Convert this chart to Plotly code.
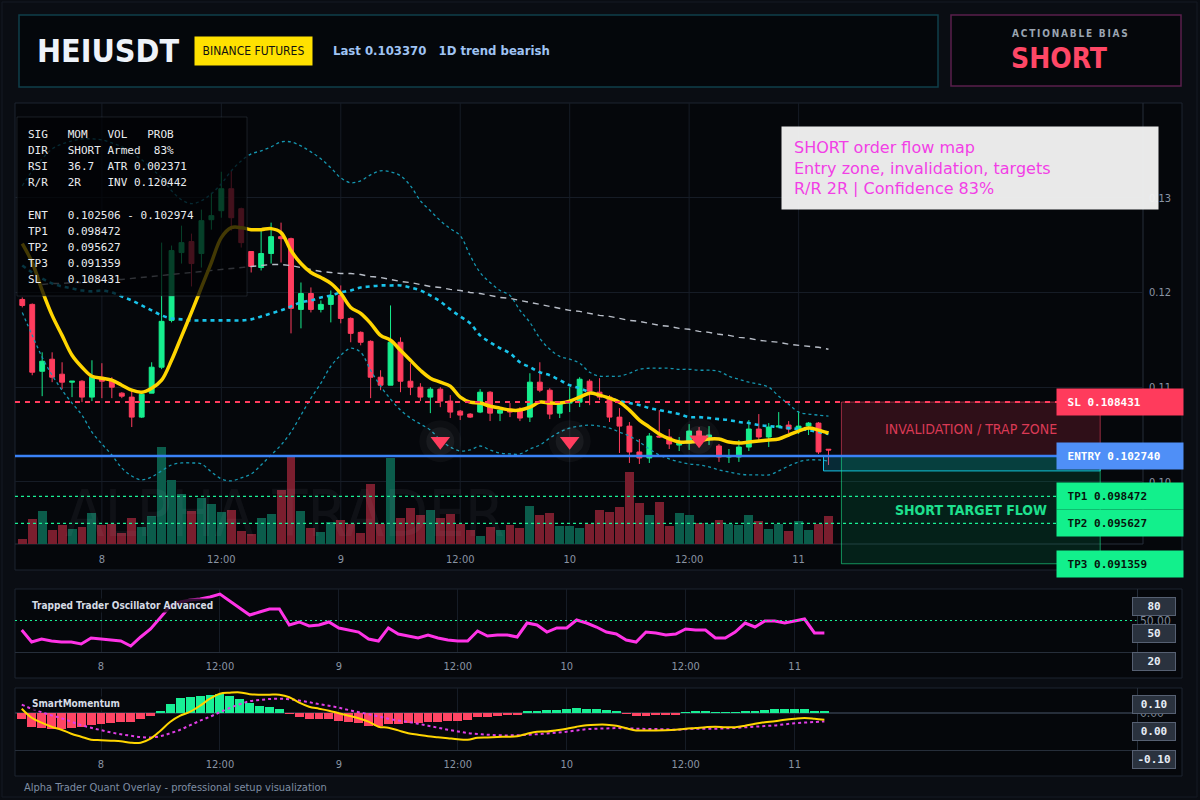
import plotly.graph_objects as go

W, H = 1200, 800

# hourly bars, index 0 = 7th 16:00
opens = [0.11926, 0.11874, 0.11168, 0.11295, 0.11137, 0.11053, 0.11063, 0.10895, 0.11105, 0.11063,
         0.10937, 0.10895, 0.10684, 0.10937, 0.11211, 0.11705, 0.12421, 0.12537, 0.12411, 0.12768,
         0.12863, 0.13095, 0.12884, 0.12432, 0.12263, 0.12411, 0.12589, 0.12568, 0.11821, 0.11989,
         0.11821, 0.11874, 0.11968, 0.11726, 0.11579, 0.11484, 0.11105, 0.11021, 0.11474, 0.11063,
         0.11000, 0.10895, 0.10979, 0.10853, 0.10747, 0.10716, 0.10737, 0.10947, 0.10726, 0.10768,
         0.10768, 0.10684, 0.11053, 0.10968, 0.10726, 0.10832, 0.10842, 0.11063, 0.10947, 0.10895,
         0.10684, 0.10589, 0.10316, 0.10253, 0.10484, 0.10474, 0.10389, 0.10410, 0.10537, 0.10474,
         0.10379, 0.10263, 0.10263, 0.10368, 0.10558, 0.10474, 0.10579, 0.10600, 0.10558, 0.10590,
         0.10621, 0.10345]
highs = [0.11947, 0.11884, 0.11368, 0.11368, 0.11263, 0.11063, 0.11074, 0.11284, 0.11253, 0.11105,
         0.10947, 0.10968, 0.10937, 0.11263, 0.12526, 0.12495, 0.12705, 0.12621, 0.12874, 0.13053,
         0.13274, 0.13284, 0.12895, 0.12432, 0.12674, 0.12737, 0.12737, 0.12579, 0.12105, 0.12053,
         0.11916, 0.12021, 0.12074, 0.11737, 0.11589, 0.11495, 0.11179, 0.11863, 0.11526, 0.11253,
         0.11042, 0.11000, 0.11000, 0.10916, 0.10758, 0.10726, 0.10979, 0.10958, 0.10768, 0.10832,
         0.10789, 0.11147, 0.11263, 0.10989, 0.10842, 0.11000, 0.11105, 0.11084, 0.11095, 0.10916,
         0.10779, 0.10632, 0.10453, 0.10516, 0.10758, 0.10558, 0.10474, 0.10610, 0.10579, 0.10589,
         0.10400, 0.10347, 0.10442, 0.10653, 0.10716, 0.10621, 0.10737, 0.10642, 0.10747, 0.10632,
         0.10632, 0.10345]
lows = [0.11842, 0.11126, 0.10905, 0.11053, 0.10979, 0.10895, 0.10842, 0.10853, 0.10884, 0.10884,
        0.10884, 0.10579, 0.10674, 0.10937, 0.11190, 0.11684, 0.12305, 0.12063, 0.12263, 0.12663,
        0.12789, 0.12653, 0.12474, 0.12211, 0.12232, 0.12305, 0.12316, 0.11568, 0.11621, 0.11789,
        0.11789, 0.11684, 0.11674, 0.11474, 0.11442, 0.10884, 0.10968, 0.11021, 0.10947, 0.10916,
        0.10853, 0.10726, 0.10789, 0.10674, 0.10653, 0.10674, 0.10726, 0.10642, 0.10642, 0.10684,
        0.10642, 0.10632, 0.10947, 0.10663, 0.10674, 0.10737, 0.10790, 0.10810, 0.10863, 0.10632,
        0.10305, 0.10200, 0.10189, 0.10200, 0.10463, 0.10347, 0.10326, 0.10337, 0.10410, 0.10389,
        0.10211, 0.10200, 0.10211, 0.10326, 0.10442, 0.10368, 0.10579, 0.10516, 0.10505, 0.10495,
        0.10295, 0.10179]
closes = [0.11863, 0.11158, 0.11274, 0.11105, 0.11053, 0.11063, 0.10895, 0.11105, 0.11063, 0.11000,
          0.10905, 0.10684, 0.10926, 0.11211, 0.11695, 0.12442, 0.12526, 0.12305, 0.12758, 0.12811,
          0.13095, 0.12789, 0.12526, 0.12274, 0.12411, 0.12589, 0.12568, 0.11832, 0.11989, 0.11821,
          0.11874, 0.11968, 0.11726, 0.11568, 0.11474, 0.11105, 0.11021, 0.11474, 0.11063, 0.11000,
          0.10895, 0.10979, 0.10853, 0.10737, 0.10705, 0.10684, 0.10947, 0.10726, 0.10758, 0.10737,
          0.10674, 0.11053, 0.10968, 0.10716, 0.10832, 0.10842, 0.11084, 0.10958, 0.10895, 0.10684,
          0.10589, 0.10316, 0.10253, 0.10484, 0.10474, 0.10400, 0.10410, 0.10537, 0.10442, 0.10495,
          0.10263, 0.10274, 0.10368, 0.10558, 0.10474, 0.10579, 0.10590, 0.10558, 0.10589, 0.10621,
          0.10316, 0.10337]
volume = [50, 250, 330, 140, 190, 150, 170, 310, 190, 200, 110, 260, 170, 280, 970, 640, 500, 330,
          460, 400, 320, 340, 130, 100, 260, 300, 540, 880, 330, 160, 120, 220, 240, 200, 110, 600,
          200, 860, 260, 360, 290, 340, 260, 300, 200, 140, 80, 170, 140, 190, 160, 380, 290, 310,
          180, 180, 160, 200, 340, 320, 370, 720, 410, 290, 420, 180, 310, 290, 210, 200, 240, 200,
          190, 290, 230, 150, 200, 130, 230, 140, 200, 280]

ema_fast = [0.12516, 0.12316, 0.12021, 0.11758, 0.11547, 0.11337, 0.11211, 0.11116, 0.11095, 0.11074,
            0.11021, 0.10968, 0.10947, 0.10989, 0.11074, 0.11284, 0.11537, 0.11789, 0.12053, 0.12316,
            0.12579, 0.12684, 0.12684, 0.12663, 0.12663, 0.12674, 0.12632, 0.12442, 0.12305, 0.12211,
            0.12158, 0.12095, 0.11989, 0.11842, 0.11779, 0.11674, 0.11547, 0.11495, 0.11389, 0.11284,
            0.11179, 0.11095, 0.11053, 0.11011, 0.10895, 0.10842, 0.10832, 0.10800, 0.10779, 0.10758,
            0.10758, 0.10789, 0.10842, 0.10832, 0.10832, 0.10853, 0.10895, 0.10937, 0.10916, 0.10884,
            0.10842, 0.10758, 0.10653, 0.10579, 0.10505, 0.10453, 0.10421, 0.10421, 0.10432, 0.10453,
            0.10453, 0.10421, 0.10411, 0.10421, 0.10432, 0.10442, 0.10453, 0.10495, 0.10537, 0.10568,
            0.10547, 0.10516]
bb_mid = [0.12284, 0.12211, 0.12147, 0.12095, 0.12063, 0.12042, 0.12021, 0.12011, 0.12021, 0.12000,
          0.11958, 0.11916, 0.11863, 0.11811, 0.11758, 0.11726, 0.11716, 0.11705, 0.11705, 0.11705,
          0.11705, 0.11705, 0.11705, 0.11716, 0.11747, 0.11779, 0.11811, 0.11853, 0.11895, 0.11916,
          0.11947, 0.11968, 0.12000, 0.12021, 0.12053, 0.12063, 0.12074, 0.12074, 0.12074, 0.12053,
          0.12021, 0.11968, 0.11905, 0.11821, 0.11747, 0.11674, 0.11547, 0.11474, 0.11411, 0.11358,
          0.11263, 0.11211, 0.11158, 0.11126, 0.11074, 0.11021, 0.10989, 0.10947, 0.10916, 0.10884,
          0.10853, 0.10832, 0.10811, 0.10779, 0.10758, 0.10737, 0.10716, 0.10684, 0.10684, 0.10674,
          0.10663, 0.10653, 0.10632, 0.10621, 0.10600, 0.10589, 0.10579, 0.10568, 0.10558, 0.10547,
          0.10526, 0.10505]
bb_upper = [0.13126, 0.13284, 0.13411, 0.13516, 0.13568, 0.13600, 0.13621, 0.13621, 0.13611, 0.13579,
            0.13537, 0.13474, 0.13400, 0.13305, 0.13210, 0.13074, 0.12979, 0.12937, 0.12968, 0.13042,
            0.13147, 0.13284, 0.13389, 0.13463, 0.13495, 0.13537, 0.13589, 0.13589, 0.13547, 0.13484,
            0.13411, 0.13316, 0.13210, 0.13158, 0.13179, 0.13242, 0.13284, 0.13274, 0.13232, 0.13126,
            0.12968, 0.12863, 0.12758, 0.12674, 0.12600, 0.12389, 0.12211, 0.12105, 0.12021, 0.11968,
            0.11811, 0.11684, 0.11516, 0.11400, 0.11326, 0.11295, 0.11253, 0.11158, 0.11116, 0.11116,
            0.11116, 0.11147, 0.11189, 0.11200, 0.11200, 0.11200, 0.11189, 0.11189, 0.11179, 0.11179,
            0.11168, 0.11116, 0.11084, 0.11053, 0.11032, 0.11000, 0.10905, 0.10821, 0.10737, 0.10716,
            0.10705, 0.10695]
bb_lower = [0.11789, 0.11547, 0.11316, 0.11126, 0.10968, 0.10832, 0.10705, 0.10526, 0.10400, 0.10284,
            0.10147, 0.10063, 0.10021, 0.10053, 0.10116, 0.10179, 0.10200, 0.10200, 0.10189, 0.10105,
            0.10032, 0.10011, 0.10042, 0.10084, 0.10179, 0.10284, 0.10389, 0.10526, 0.10705, 0.10884,
            0.11042, 0.11221, 0.11337, 0.11411, 0.11368, 0.11179, 0.11011, 0.10874, 0.10758, 0.10674,
            0.10611, 0.10547, 0.10442, 0.10368, 0.10326, 0.10337, 0.10379, 0.10337, 0.10305, 0.10295,
            0.10295, 0.10347, 0.10389, 0.10463, 0.10526, 0.10568, 0.10589, 0.10600, 0.10589, 0.10568,
            0.10526, 0.10484, 0.10421, 0.10347, 0.10284, 0.10242, 0.10211, 0.10189, 0.10179, 0.10158,
            0.10126, 0.10105, 0.10084, 0.10074, 0.10074, 0.10074, 0.10116, 0.10168, 0.10211, 0.10232,
            0.10232, 0.10221]
ma_slow = [None, None, 0.12084, 0.12095, 0.12095, 0.12105, 0.12105, 0.12116, 0.12126, 0.12137,
           0.12137, 0.12147, 0.12158, 0.12168, 0.12179, 0.12189, 0.12200, 0.12211, 0.12221, 0.12232,
           0.12242, 0.12253, 0.12263, 0.12274, 0.12284, 0.12295, 0.12295, 0.12284, 0.12263, 0.12242,
           0.12221, 0.12211, 0.12200, 0.12200, 0.12189, 0.12168, 0.12158, 0.12137, 0.12116, 0.12105,
           0.12084, 0.12063, 0.12053, 0.12032, 0.12021, 0.12000, 0.11989, 0.11968, 0.11947, 0.11937,
           0.11916, 0.11895, 0.11874, 0.11853, 0.11832, 0.11811, 0.11800, 0.11779, 0.11758, 0.11747,
           0.11726, 0.11705, 0.11695, 0.11674, 0.11653, 0.11642, 0.11621, 0.11611, 0.11589, 0.11579,
           0.11558, 0.11547, 0.11526, 0.11516, 0.11495, 0.11484, 0.11474, 0.11453, 0.11442, 0.11432,
           0.11421, 0.11400]

osc = [40.9, 29.5, 32.4, 30.5, 29.5, 29.5, 27.6, 33.3, 32.4, 31.4, 30.5, 25.7, 34.3, 41.9, 53.3,
       63.8, 67.6, 69.5, 70.5, 72.4, 75.2, 68.6, 61.9, 55.2, 58.1, 61.0, 61.0, 45.7, 48.6, 44.8,
       45.7, 48.6, 42.9, 40.9, 39.0, 32.4, 30.5, 42.9, 37.1, 35.2, 33.3, 36.2, 33.3, 31.4, 30.5,
       30.5, 40.0, 35.2, 36.2, 36.2, 34.3, 47.6, 45.7, 39.0, 42.9, 42.9, 50.5, 47.6, 43.8, 39.0,
       37.1, 31.4, 29.5, 39.0, 38.1, 36.2, 37.1, 41.9, 40.9, 40.9, 33.3, 33.3, 39.0, 47.6, 43.8,
       49.5, 49.5, 47.6, 49.5, 51.4, 38.1, 38.1]
mom_hist = [-0.024, -0.054, -0.058, -0.063, -0.064, -0.060, -0.054, -0.048, -0.043, -0.038,
            -0.034, -0.034, -0.024, -0.010, 0.009, 0.037, 0.060, 0.066, 0.070, 0.073,
            0.076, 0.069, 0.058, 0.042, 0.030, 0.026, 0.016, -0.003, -0.014, -0.024,
            -0.024, -0.024, -0.030, -0.034, -0.040, -0.050, -0.051, -0.043, -0.043, -0.040,
            -0.038, -0.034, -0.034, -0.031, -0.030, -0.027, -0.016, -0.014, -0.011, -0.007,
            -0.006, 0.010, 0.009, 0.013, 0.013, 0.016, 0.021, 0.017, 0.016, 0.013,
            0.009, -0.002, -0.010, -0.010, -0.006, -0.006, -0.006, 0.002, 0.005, 0.005,
            0.002, 0.001, 0.001, 0.009, 0.010, 0.014, 0.017, 0.017, 0.017, 0.017,
            0.008, 0.005]
mom_line = [0.0172, -0.0188, -0.0388, -0.0548, -0.0668, -0.0828, -0.0948, -0.1068, -0.1088, -0.1108,
            -0.1128, -0.1188, -0.1188, -0.1028, -0.0708, -0.0348, -0.0108, 0.0052, 0.0292, 0.0572,
            0.0772, 0.0812, 0.0824, 0.0752, 0.0732, 0.0732, 0.0732, 0.0632, 0.0412, 0.0252,
            0.0172, 0.0092, -0.0008, -0.0108, -0.0208, -0.0348, -0.0548, -0.0588, -0.0696, -0.0808,
            -0.0868, -0.0928, -0.0968, -0.1008, -0.1048, -0.1068, -0.0988, -0.0976, -0.0960, -0.0948,
            -0.0928, -0.0828, -0.0748, -0.0736, -0.0688, -0.0628, -0.0548, -0.0488, -0.0468, -0.0468,
            -0.0508, -0.0608, -0.0696, -0.0696, -0.0696, -0.0688, -0.0668, -0.0628, -0.0600, -0.0568,
            -0.0548, -0.0568, -0.0568, -0.0508, -0.0428, -0.0368, -0.0328, -0.0268, -0.0228, -0.0200,
            -0.0228, -0.0268]
mom_signal = [0.0332, 0.0172, 0.0032, -0.0096, -0.0208, -0.0348, -0.0488, -0.0588, -0.0688, -0.0776,
              -0.0848, -0.0908, -0.0964, -0.0980, -0.0928, -0.0808, -0.0668, -0.0488, -0.0308, -0.0148,
              0.0032, 0.0200, 0.0352, 0.0472, 0.0520, 0.0560, 0.0572, 0.0548, 0.0504, 0.0432,
              0.0352, 0.0292, 0.0212, 0.0120, 0.0032, -0.0048, -0.0136, -0.0228, -0.0300, -0.0360,
              -0.0428, -0.0508, -0.0588, -0.0668, -0.0736, -0.0800, -0.0836, -0.0868, -0.0888, -0.0896,
              -0.0888, -0.0876, -0.0848, -0.0816, -0.0788, -0.0748, -0.0696, -0.0648, -0.0628, -0.0616,
              -0.0604, -0.0612, -0.0628, -0.0636, -0.0640, -0.0652, -0.0668, -0.0648, -0.0628, -0.0628,
              -0.0628, -0.0612, -0.0596, -0.0572, -0.0548, -0.0520, -0.0496, -0.0452, -0.0412, -0.0384,
              -0.0360, -0.0336]

signal_bars = [42, 55, 68]
signal_price = [0.10430, 0.10430, 0.10445]

tick_idx = [8, 20, 32, 44, 55, 67, 78]
tick_lbl = ["8", "12:00", "9", "12:00", "10", "12:00", "11"]
price_ticks = [0.10, 0.11, 0.12, 0.13]

sl, entry = 0.108431, 0.102740
tp1, tp2, tp3 = 0.098472, 0.095627, 0.091359
ent_lo, ent_hi = 0.102506, 0.102974
inv_level, atr, rsi = 0.120442, 0.002371, 36.7
confidence = 83

bars = list(range(len(closes)))

# layout constants (pixels -> paper)
def px(x):
    return x / W

def py(y):
    return 1 - y / H

SANS = "DejaVu Sans Condensed, DejaVu Sans, sans-serif"
MONO = "DejaVu Sans Mono, monospace"
NB = "\u00a0"
UP, DOWN = "#16ee8e", "#ff3d5e"
GRID = "#161c26"
TXT = "#8a94a4"

x_main = [-0.73, 112.6]
x_sub = [-0.68, 112.5]
price_range = [0.0907, 0.1400]
vol_range = [-260, 4410]
zone_x0, zone_x1, ent_box_x0 = 82.3, 108.3, 80.5

fig = go.Figure()

vol_colors = ["#0b5c4b" if c >= o else "#7a1e2e" for o, c in zip(opens, closes)]
fig.add_trace(go.Bar(x=bars, y=volume, marker=dict(color=vol_colors, line=dict(width=0)),
                     width=0.9, xaxis="x", yaxis="y"))

for band in (bb_upper, bb_lower):
    fig.add_trace(go.Scatter(x=bars, y=band, mode="lines", xaxis="x", yaxis="y2",
                             line=dict(color="#1596b0", width=1.3, dash="dot", shape="spline")))
fig.add_trace(go.Scatter(x=bars, y=ma_slow, mode="lines", xaxis="x", yaxis="y2",
                         line=dict(color="#b9bec8", width=1.4, dash="6px,5px")))

fig.add_trace(go.Candlestick(
    x=bars, open=opens, high=highs, low=lows, close=closes, xaxis="x", yaxis="y2",
    increasing=dict(fillcolor=UP, line=dict(color=UP, width=1)),
    decreasing=dict(fillcolor=DOWN, line=dict(color=DOWN, width=1)),
    whiskerwidth=0))

fig.add_trace(go.Scatter(x=bars, y=bb_mid, mode="lines", xaxis="x", yaxis="y2",
                         line=dict(color="#19c3ea", width=2.6, dash="4px,4px", shape="spline")))
fig.add_trace(go.Scatter(x=bars, y=ema_fast, mode="lines", xaxis="x", yaxis="y2",
                         line=dict(color="#ffd500", width=3.5, shape="spline")))

# short signals with soft glow
for size, alpha in ((42, 0.035), (28, 0.05)):
    fig.add_trace(go.Scatter(x=signal_bars, y=signal_price, mode="markers", xaxis="x", yaxis="y2",
                             marker=dict(symbol="circle", size=size, color=f"rgba(255,255,255,{alpha})")))
fig.add_trace(go.Scatter(x=signal_bars, y=signal_price, mode="markers", xaxis="x", yaxis="y2",
                         marker=dict(symbol="triangle-down", size=17, color="#ff3d5e")))

# oscillator
fig.add_trace(go.Scatter(x=bars, y=osc, mode="lines", xaxis="x2", yaxis="y3",
                         line=dict(color="#ff33e6", width=3)))

# momentum
fig.add_trace(go.Bar(x=bars, y=mom_hist, width=0.9, xaxis="x3", yaxis="y4",
                     marker=dict(color=["#18f095" if v >= 0 else "#ff4564" for v in mom_hist],
                                 line=dict(width=0))))
fig.add_trace(go.Scatter(x=bars, y=mom_signal, mode="lines", xaxis="x3", yaxis="y4",
                         line=dict(color="#e03ee6", width=2, dash="dot", shape="spline")))
fig.add_trace(go.Scatter(x=bars, y=mom_line, mode="lines", xaxis="x3", yaxis="y4",
                         line=dict(color="#ffd500", width=2, shape="spline")))

shapes = []

def frame(x0, y0, x1, y1, line, fill, width=1):
    shapes.append(dict(type="rect", xref="paper", yref="paper", x0=px(x0), x1=px(x1),
                       y0=py(y1), y1=py(y0), line=dict(color=line, width=width),
                       fillcolor=fill, layer="below"))

frame(2, 2, 1197, 797, "#141a24", "rgba(0,0,0,0)")
frame(19, 15, 938, 87, "#0f3f4b", "#04070b", 1.5)
frame(951, 15, 1181, 86, "#5a1f4c", "#05070b", 1.5)
frame(15, 103, 1182, 570, "#1d2430", "#05070b")
frame(15, 589, 1182, 678, "#1d2430", "#05070b")
frame(15, 688, 1182, 776, "#1d2430", "#05070b")

for t in tick_idx:
    shapes.append(dict(type="line", xref="x", yref="y", x0=t, x1=t, y0=0, y1=vol_range[1],
                       line=dict(color=GRID, width=1), layer="below"))
shapes.append(dict(type="line", xref="x domain", yref="y", x0=0, x1=1, y0=0, y1=0,
                   line=dict(color="#262e3a", width=1), layer="below"))
shapes.append(dict(type="line", xref="x domain", yref="y", x0=1, x1=1, y0=0, y1=vol_range[1],
                   line=dict(color="#262e3a", width=1), layer="below"))

# trade zones
shapes.append(dict(type="rect", xref="x", yref="y2", x0=ent_box_x0, x1=zone_x1,
                   y0=entry - 0.00158, y1=entry, fillcolor="rgba(20,170,210,0.22)",
                   line=dict(color="#17c2e6", width=1), layer="above"))
shapes.append(dict(type="rect", xref="x", yref="y2", x0=zone_x0, x1=zone_x1, y0=entry, y1=sl,
                   fillcolor="rgba(200,45,75,0.22)", line=dict(color="rgba(255,70,100,0.55)", width=1),
                   layer="above"))
shapes.append(dict(type="rect", xref="x", yref="y2", x0=zone_x0, x1=zone_x1, y0=tp3, y1=entry,
                   fillcolor="rgba(0,190,110,0.14)", line=dict(color="rgba(30,230,140,0.6)", width=1),
                   layer="above"))

# levels
shapes.append(dict(type="line", xref="x domain", yref="y2", x0=0, x1=1, y0=sl, y1=sl,
                   line=dict(color="#ff3d5e", width=2, dash="5px,5px"), layer="above"))
for lvl in (tp1, tp2):
    shapes.append(dict(type="line", xref="x domain", yref="y2", x0=0, x1=1, y0=lvl, y1=lvl,
                       line=dict(color="#19f095", width=1.3, dash="3px,3px"), layer="above"))
shapes.append(dict(type="line", xref="x domain", yref="y2", x0=0, x1=1, y0=entry, y1=entry,
                   line=dict(color="#3b82f6", width=2.5), layer="above"))
shapes.append(dict(type="line", xref="x2 domain", yref="y3", x0=0, x1=1, y0=50, y1=50,
                   line=dict(color="#19f095", width=1.2, dash="2px,3px"), layer="above"))

# info panel backdrop
shapes.append(dict(type="rect", xref="paper", yref="paper", x0=px(17), x1=px(247),
                   y0=py(296), y1=py(117), fillcolor="rgba(2,3,6,0.74)",
                   line=dict(color="rgba(70,80,95,0.35)", width=1), layer="above"))

ann = []

def note(text, x, y, size=11, color=TXT, family=SANS, xanchor="left", yanchor="middle", **kw):
    d = dict(text=text, x=x, y=y, xref="paper", yref="paper", showarrow=False,
             font=dict(size=size, color=color, family=family), xanchor=xanchor, yanchor=yanchor)
    d.update(kw)
    ann.append(d)

# header
note("<b>HEIUSDT</b>", px(35), py(51), size=32, color="#eef3fa")
note("BINANCE FUTURES", px(194), py(51), size=12, color="#111111", bgcolor="#ffe100",
     width=109, height=20, borderpad=4)
note(f"<b>Last {closes[-1]:.6f}{NB*3}1D trend bearish</b>", px(331), py(51), size=13, color="#9fc3f3")
note("<b>" + "\u2009".join("ACTIONABLE BIAS") + "</b>", px(1010), py(34), size=10, color="#9aa4b1")
note("<b>SHORT</b>", px(1009), py(58), size=28, color="#ff4766")

# info rows
rows = [
    f"SIG{NB*3}MOM{NB*3}VOL{NB*3}PROB",
    f"DIR{NB*3}SHORT{NB}Armed{NB*2}{confidence}%",
    f"RSI{NB*3}{rsi}{NB*2}ATR{NB}{atr:.6f}",
    f"R/R{NB*3}2R{NB*4}INV{NB}{inv_level:.6f}",
    "",
    f"ENT{NB*3}{ent_lo:.6f}{NB}-{NB}{ent_hi:.6f}",
    f"TP1{NB*3}{tp1:.6f}",
    f"TP2{NB*3}{tp2:.6f}",
    f"TP3{NB*3}{tp3:.6f}",
    f"SL{NB*4}{sl:.6f}",
]
for k, r in enumerate(rows):
    if r:
        note(r, px(26), py(134 + 16.2 * k), size=11, color="#e9ecef", family=MONO)

note("SHORT order flow map<br>Entry zone, invalidation, targets<br>"
     f"R/R 2R | Confidence {confidence}%",
     px(781), py(126), size=16, color="#f23fe6", family="DejaVu Sans, sans-serif",
     yanchor="top", align="left", bgcolor="rgba(242,242,242,0.96)", width=352, height=58,
     borderpad=12, valign="middle")

note("ALPHA TRADER", px(285), py(514), size=64, color="rgba(210,220,235,0.05)", xanchor="center")

# zone captions
ann.append(dict(text="INVALIDATION / TRAP ZONE", x=(zone_x0 + zone_x1) / 2, y=(sl + entry) / 2,
                xref="x", yref="y2", showarrow=False,
                font=dict(size=14, color="#da3a55", family=SANS)))
ann.append(dict(text="<b>SHORT TARGET FLOW</b>", x=(zone_x0 + zone_x1) / 2, y=(entry + tp3) / 2,
                xref="x", yref="y2", showarrow=False,
                font=dict(size=14, color="#1ee08e", family=SANS)))

# price tags
for label, lvl, bg, fg in (("SL", sl, "#ff3b5c", "#ffffff"), ("ENTRY", entry, "#4f8ff7", "#ffffff"),
                           ("TP1", tp1, "#12f08c", "#07140d"), ("TP2", tp2, "#12f08c", "#07140d"),
                           ("TP3", tp3, "#12f08c", "#07140d")):
    ann.append(dict(text=f"<b>{NB}{label} {lvl:.6f}</b>", x=px(1056), y=lvl, xref="paper", yref="y2",
                    xanchor="left", yanchor="middle", showarrow=False, align="left",
                    font=dict(size=11, color=fg, family=MONO), bgcolor=bg,
                    width=118, height=18, borderpad=4))

# sub-panel titles and scale tags
note("<b>Trapped Trader Oscillator Advanced</b>", px(30), py(605), size=10, color="#d5dbe4",
     bgcolor="rgba(5,7,11,0.8)")
note("<b>SmartMomentum</b>", px(30), py(703), size=10, color="#d5dbe4", bgcolor="rgba(5,7,11,0.8)")
for txt, yy in (("80", 606), ("50", 633.5), ("20", 661.5), ("0.10", 704), ("0.00", 731), ("-0.10", 759)):
    note(f"<b>{txt}</b>", px(1154), py(yy), size=11, color="#e6edf5", family=MONO, xanchor="center",
         bgcolor="#2a323e", bordercolor="#566072", borderwidth=1, width=36, height=11, borderpad=3)

note("Alpha Trader Quant Overlay - professional setup visualization", px(22), py(787),
     size=11, color="#7f8ea3")

axis_font = dict(size=11, color=TXT, family=SANS)

fig.update_layout(
    width=W, height=H, margin=dict(l=0, r=0, t=0, b=0),
    paper_bgcolor="#0a0d13", plot_bgcolor="#05070b", showlegend=False,
    bargap=0, shapes=shapes, annotations=ann,
    xaxis=dict(domain=[px(15), px(1143)], range=x_main, anchor="y",
               tickvals=tick_idx, ticktext=tick_lbl, ticklabelposition="inside",
               ticklabelstandoff=2,
               tickfont=axis_font, showgrid=False, zeroline=False, showline=False,
               rangeslider=dict(visible=False)),
    yaxis=dict(domain=[py(570), py(103)], range=vol_range, visible=False, anchor="x"),
    yaxis2=dict(overlaying="y", range=price_range, side="right", anchor="x",
                tickvals=price_ticks, ticktext=[f"{v:.2f}" for v in price_ticks],
                tickfont=axis_font, gridcolor=GRID, zeroline=False, showline=False,
                ticklabelstandoff=5),
    xaxis2=dict(domain=[px(15), px(1136.5)], range=x_sub, anchor="y3",
                tickvals=tick_idx, ticktext=tick_lbl, tickfont=axis_font, gridcolor=GRID,
                zeroline=False, showline=True, linecolor="#262e3a", ticklabelstandoff=4),
    yaxis3=dict(domain=[py(652), py(589)], range=[20, 80], anchor="x2", side="right",
                tickvals=[50], tickformat=".2f", tickfont=dict(size=12, color="#7d8796", family=SANS),
                showgrid=False, zeroline=False, showline=True, linecolor="#262e3a"),
    xaxis3=dict(domain=[px(15), px(1136.5)], range=x_sub, anchor="y4",
                tickvals=tick_idx, ticktext=tick_lbl, tickfont=axis_font, gridcolor=GRID,
                zeroline=False, showline=True, linecolor="#262e3a", ticklabelstandoff=4),
    yaxis4=dict(domain=[py(750), py(688)], range=[-0.148, 0.1], anchor="x3", side="right",
                tickvals=[0], tickformat=".2f", tickfont=dict(size=12, color="#7d8796", family=SANS),
                showgrid=False, zeroline=True, zerolinecolor="#262e3a", showline=True,
                linecolor="#262e3a"),
)

fig.write_html("out.html", config={"displayModeBar": False},
               post_script="document.body.style.margin='0';")
